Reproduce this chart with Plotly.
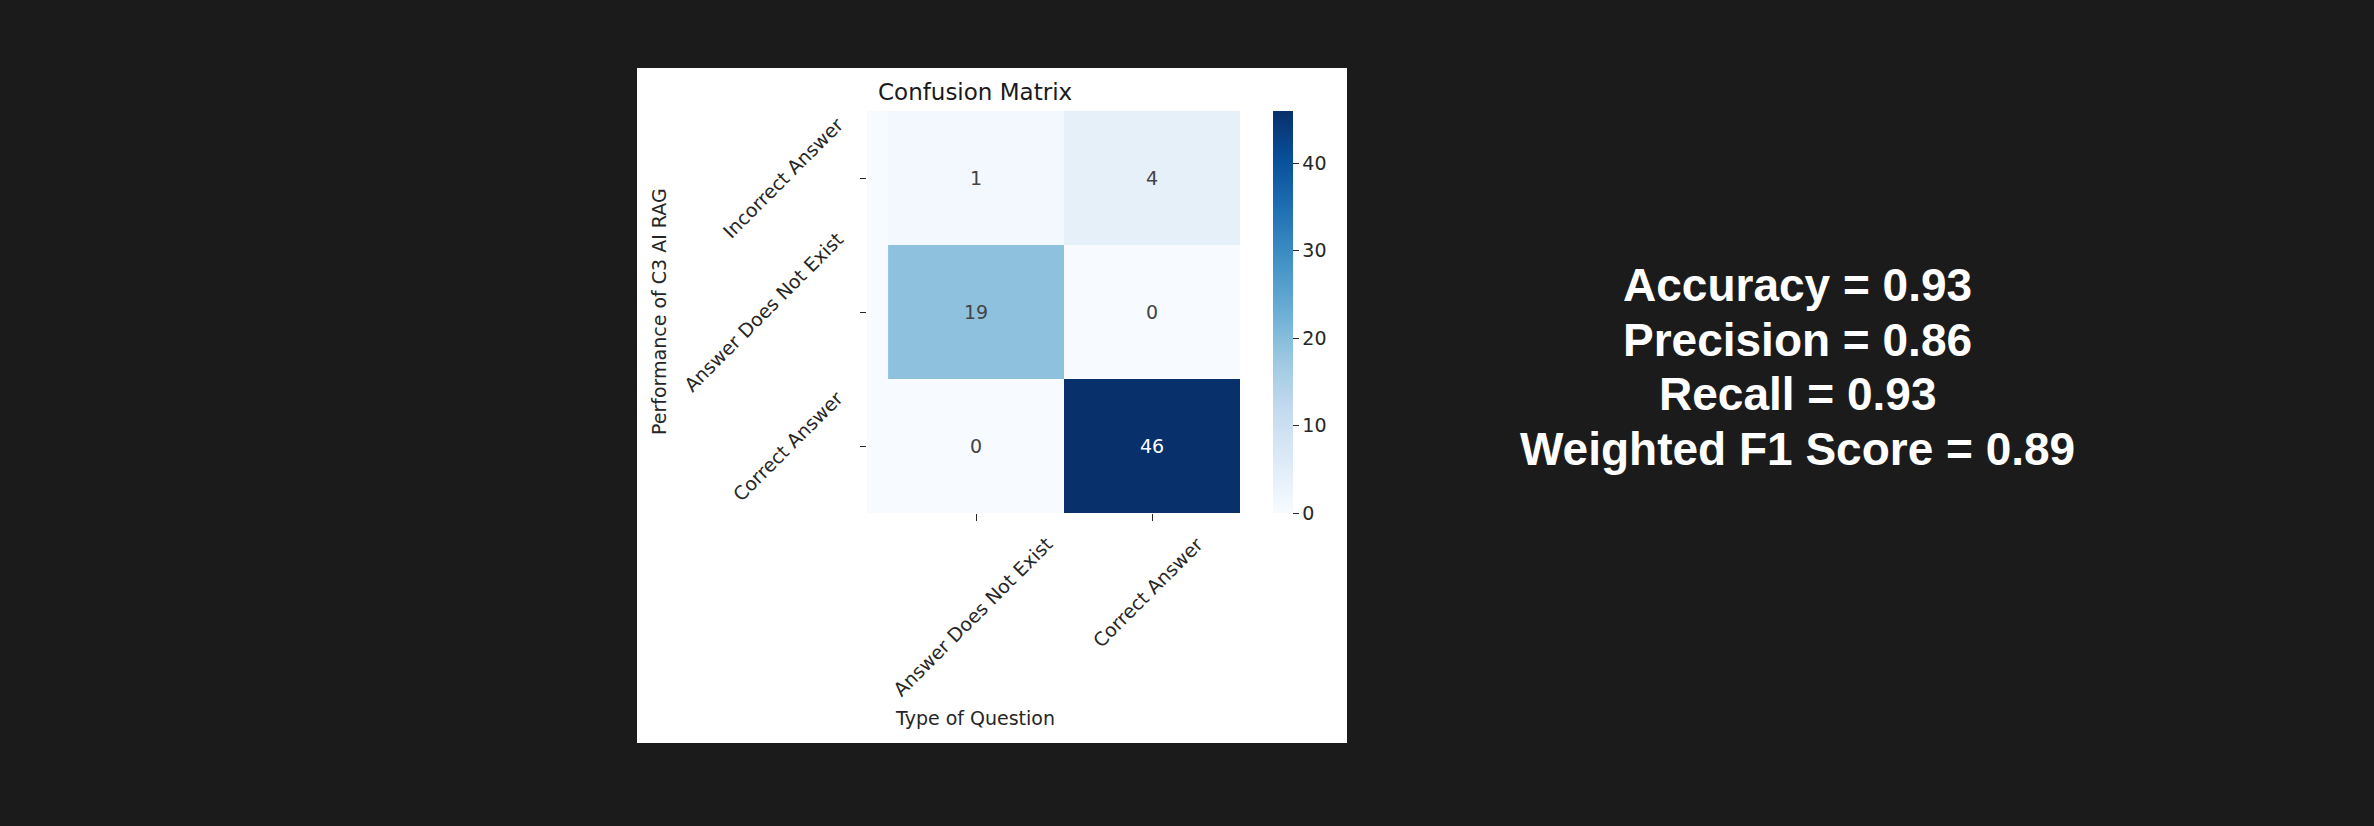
import plotly.graph_objects as go

# confusion matrix values
row_labels = ["Incorrect Answer", "Answer Does Not Exist", "Correct Answer"]
col_labels = ["Answer Does Not Exist", "Correct Answer"]
counts = [[1, 4],
          [19, 0],
          [0, 46]]
metric_names = ["Accuracy", "Precision", "Recall", "Weighted F1 Score"]
metric_values = [0.93, 0.86, 0.93, 0.89]
cbar_ticks = [0, 10, 20, 30, 40]

W, H = 2374, 826
# plot area in pixels (heatmap axes)
L, R, T, B = 867, 1240, 111, 513


def px(x):
    return (x - L) / (R - L)


def py(y):
    return (B - y) / (B - T)


tick_font = dict(family="DejaVu Sans", size=19, color="#262626")

fig = go.Figure()
fig.add_trace(go.Heatmap(
    z=counts,
    x=list(range(len(col_labels))),
    y=list(range(len(row_labels))),
    colorscale="Blues",
    zmin=0, zmax=46,
    texttemplate="%{z}",
    textfont=dict(family="DejaVu Sans", size=19),
    colorbar=dict(
        thickness=20, len=1, lenmode="fraction", y=0.5, yanchor="middle",
        x=px(1273), xanchor="left", xpad=0, ypad=0, outlinewidth=0,
        ticks="outside", ticklen=6, tickwidth=1.2, tickcolor="#262626",
        tickvals=cbar_ticks, tickfont=tick_font,
    ),
))

# white figure panel and light axes background
fig.add_shape(type="rect", xref="paper", yref="paper",
              x0=px(637), x1=px(1347), y0=py(743), y1=py(68),
              fillcolor="white", line_width=0, layer="below")
fig.add_shape(type="rect", xref="paper", yref="paper",
              x0=0, x1=1, y0=0, y1=1,
              fillcolor="#f7fbff", line_width=0, layer="below")

# rotated tick labels
for i, lab in enumerate(col_labels):
    fig.add_annotation(x=i, xref="x", y=0, yref="paper", text=lab,
                       textangle=-45, showarrow=False, xanchor="center",
                       yanchor="top", yshift=-17, xshift=-4, font=tick_font)
for j, lab in enumerate(row_labels):
    fig.add_annotation(x=0, xref="paper", y=j, yref="y", text=lab,
                       textangle=-45, showarrow=False, xanchor="right",
                       yanchor="middle", xshift=-17, font=tick_font)

fig.add_annotation(x=px(975), xref="paper", y=py(92), yref="paper",
                   text="Confusion Matrix", showarrow=False,
                   xanchor="center", yanchor="middle",
                   font=dict(family="DejaVu Sans", size=23, color="#1a1a1a"))
fig.add_annotation(x=px(975), xref="paper", y=py(718), yref="paper",
                   text="Type of Question", showarrow=False,
                   xanchor="center", yanchor="middle", font=tick_font)
fig.add_annotation(x=px(659), xref="paper", y=0.5, yref="paper",
                   text="Performance of C3 AI RAG", textangle=-90,
                   xanchor="center", yanchor="middle",
                   showarrow=False, font=tick_font)

# metrics text block
for k, (name, val) in enumerate(zip(metric_names, metric_values)):
    fig.add_annotation(x=px(1797), xref="paper", y=py(285 + 54.5 * k), yref="paper",
                       text="<b>%s = %.2f</b>" % (name, val), showarrow=False,
                       xanchor="center", yanchor="middle",
                       font=dict(family="Liberation Sans", size=46, color="white"))

fig.update_xaxes(range=[-0.62, 1.5], tickvals=[0, 1], showticklabels=False,
                 ticks="outside", ticklen=7, tickwidth=1.2, tickcolor="#262626",
                 showgrid=False, zeroline=False, showline=False)
fig.update_yaxes(range=[2.5, -0.5], tickvals=[0, 1, 2], showticklabels=False,
                 ticks="outside", ticklen=6, tickwidth=1.2, tickcolor="#262626",
                 showgrid=False, zeroline=False, showline=False)

fig.update_layout(
    width=W, height=H,
    margin=dict(l=L, r=W - R, t=T, b=H - B),
    paper_bgcolor="#1b1b1b",
    plot_bgcolor="rgba(0,0,0,0)",
    showlegend=False,
)

fig.write_html("out.html",
               config={"displayModeBar": False},
               post_script="document.body.style.margin='0';"
                           "document.body.style.background='#1b1b1b';"
                           "document.body.style.overflow='hidden';")
